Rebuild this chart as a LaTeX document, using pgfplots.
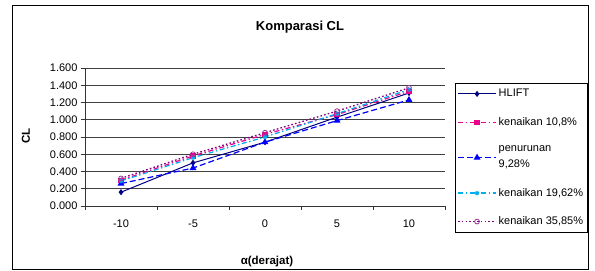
\documentclass[border=0pt]{standalone}
\usepackage{fontspec}
\setmainfont{Liberation Sans}
\usepackage{pgfplots}
\pgfplotsset{compat=1.18}
\definecolor{navyc}{RGB}{0,0,128}
\definecolor{purplec}{RGB}{128,0,128}
\definecolor{circc}{RGB}{153,51,153}
\begin{document}
\begin{tikzpicture}[x=1pt,y=1pt]
\fill[white] (0,0) rectangle (595,270);
\draw[black, line width=1pt] (12,0.5) rectangle (588,264);
\node[font=\bfseries\fontsize{13}{15}\selectfont] at (300,243) {Komparasi CL};
\node[font=\bfseries\fontsize{11.5}{13}\selectfont, rotate=90] at (26,134) {CL};
\node[font=\bfseries\fontsize{11.5}{13}\selectfont] at (267,8) {α(derajat)};
\begin{axis}[at={(85pt,64pt)}, anchor=south west, scale only axis,
  width=360pt, height=138pt,
  xmin=-0.5, xmax=4.5, ymin=0, ymax=1.6,
  axis x line*=bottom, axis y line*=left, axis line style={-, black!80, line width=0.9pt},
  xtick={0,1,2,3,4}, xticklabels={-10,-5,0,5,10},
  major x tick style={draw=none},
  minor xtick={-0.5,0.5,1.5,2.5,3.5,4.5},
  minor tick length=4pt, major tick length=4pt,
  tick align=outside,
  tick style={black!80, line width=0.9pt},
  ytick={0,0.2,0.4,0.6,0.8,1.0,1.2,1.4,1.6},
  yticklabel style={/pgf/number format/.cd, fixed, fixed zerofill, precision=3},
  /pgf/number format/assume math mode=true,
  ymajorgrids, major grid style={black!75, line width=0.9pt},
  tick label style={font=\fontsize{11}{13}\selectfont},
  xticklabel style={yshift=-6pt},
  clip=false,
  legend style={at={(1.0278,0.8913)}, anchor=north west, draw=black, line width=0.8pt,
    fill=white, font=\fontsize{11}{16}\selectfont, inner xsep=2pt, inner ysep=4pt,
    row sep=15pt, cells={anchor=west, align=left}},
  legend cell align=left,
  legend image code/.code={\draw[mark repeat=2,mark phase=2,#1] plot coordinates {(0pt,0pt) (19pt,0pt) (38pt,0pt)};},
  mark size=2.3pt,
]
\addplot[navyc, solid, line width=1pt, mark=diamond*, mark options={solid, fill=navyc}]
  coordinates {(0,0.16) (1,0.50) (2,0.74) (3,1.03) (4,1.31)};
\addlegendentry{HLIFT}
\addplot[magenta, dash pattern=on 5pt off 2.5pt on 1.5pt off 2.5pt, line width=1.2pt, mark=square*, mark size=2pt, mark options={solid, fill=magenta}]
  coordinates {(0,0.30) (1,0.58) (2,0.83) (3,1.06) (4,1.33)};
\addlegendentry{kenaikan 10,8\%}
\addplot[blue, dash pattern=on 6pt off 3pt, line width=1.2pt, mark=triangle*, mark size=2.8pt, mark options={solid, fill=blue}]
  coordinates {(0,0.26) (1,0.44) (2,0.74) (3,0.99) (4,1.23)};
\addlegendentry{penurunan\\9,28\%}
\addplot[cyan, dash pattern=on 5pt off 2.5pt on 1.5pt off 2.5pt, line width=1.2pt, mark=asterisk, mark size=2.3pt, mark options={solid}]
  coordinates {(0,0.29) (1,0.56) (2,0.80) (3,1.07) (4,1.35)};
\addlegendentry{kenaikan 19,62\%}
\addplot[purplec, dash pattern=on 1.6pt off 2.2pt, line width=1.3pt, mark=o, mark size=2.4pt, mark options={solid, draw=circc, line width=0.8pt}]
  coordinates {(0,0.32) (1,0.60) (2,0.85) (3,1.10) (4,1.37)};
\addlegendentry{kenaikan 35,85\%}
\end{axis}
\end{tikzpicture}
\end{document}
